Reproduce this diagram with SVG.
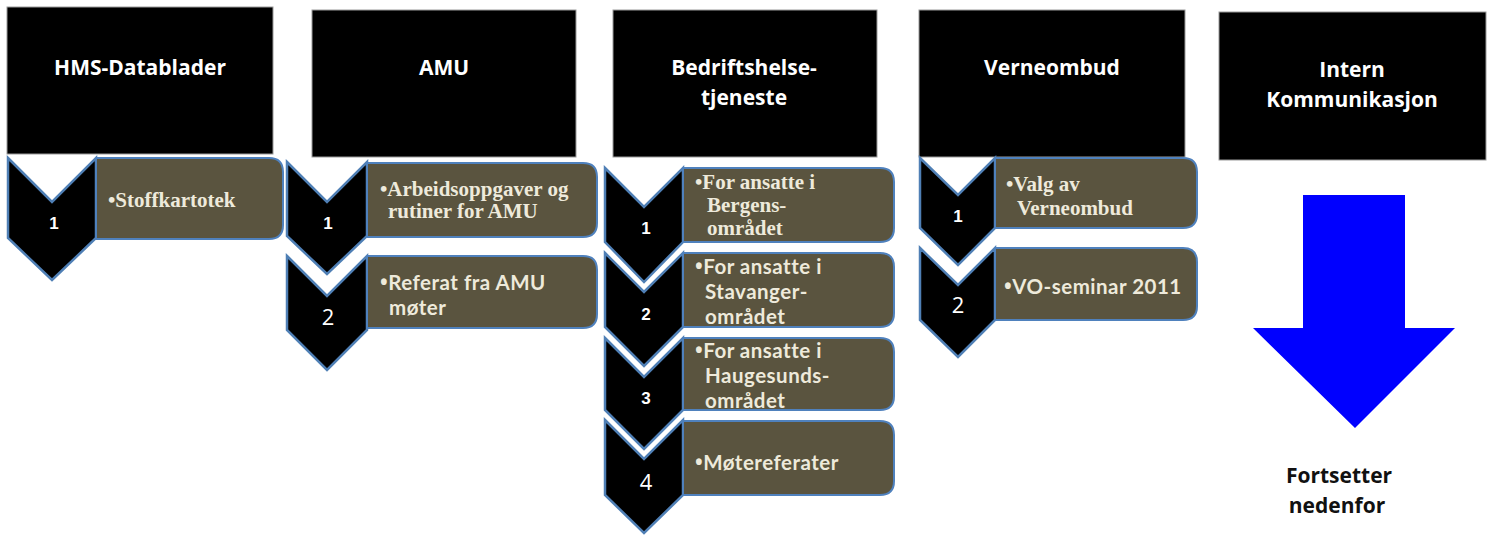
<svg xmlns="http://www.w3.org/2000/svg" width="1493" height="537" viewBox="0 0 1493 537">
  <style>
    .hdr { fill: #000000; stroke: #9a9a9a; stroke-width: 1; }
    .hdr-txt { fill: #ffffff; font-family: "Open Sans", "Liberation Sans", sans-serif; font-weight: bold; font-size: 21px; text-anchor: middle; }
    .chev { fill: #000000; stroke: #4f7fb5; stroke-width: 2.5; stroke-linejoin: miter; }
    .item { fill: #5a543f; stroke: #4f81bd; stroke-width: 2; }
    .num { fill: #ffffff; font-family: "Open Sans", "Liberation Sans", sans-serif; font-size: 22px; text-anchor: middle; }
    .num-b { fill: #ffffff; font-family: "Liberation Sans", sans-serif; font-weight: bold; font-size: 17px; text-anchor: middle; }
    .serif { fill: #eeeadb; font-family: "Liberation Serif", serif; font-weight: bold; font-size: 21px; }
    .sans { fill: #eeeadb; font-family: Lato, "Open Sans", sans-serif; font-weight: bold; font-size: 20.5px; letter-spacing: 0.5px; }
    .blt { font-family: "Open Sans", sans-serif; }
    .note { fill: #111111; font-family: "Open Sans", "Liberation Sans", sans-serif; font-weight: bold; font-size: 21px; text-anchor: middle; }
  </style>

  <!-- column headers -->
  <g id="hdr-hms">
    <rect class="hdr" x="7" y="7" width="266" height="147"/>
    <text class="hdr-txt" x="140" y="75">HMS-Datablader</text>
  </g>
  <g id="hdr-amu">
    <rect class="hdr" x="312" y="10" width="264" height="147"/>
    <text class="hdr-txt" x="444" y="75">AMU</text>
  </g>
  <g id="hdr-bht">
    <rect class="hdr" x="613" y="10" width="264" height="147"/>
    <text class="hdr-txt" x="744" y="75">Bedriftshelse-</text>
    <text class="hdr-txt" x="744" y="105">tjeneste</text>
  </g>
  <g id="hdr-vo">
    <rect class="hdr" x="919" y="10" width="266" height="147"/>
    <text class="hdr-txt" x="1052" y="75">Verneombud</text>
  </g>
  <g id="hdr-intern">
    <rect class="hdr" x="1219" y="12" width="267" height="148"/>
    <text class="hdr-txt" x="1352" y="77">Intern</text>
    <text class="hdr-txt" x="1352" y="107">Kommunikasjon</text>
  </g>

  <!-- HMS-Datablader list -->
  <g id="hms-1">
    <polygon class="chev" points="8,158 52,202 96,158 96,238 52,280 8,238"/>
    <path class="item" d="M96,158 H269 Q283,158 283,172 V225 Q283,239 269,239 H96 Z"/>
    <text class="num-b" x="54" y="229">1</text>
    <text class="serif" x="108" y="207">•Stoffkartotek</text>
  </g>

  <!-- AMU list -->
  <g id="amu-1">
    <polygon class="chev" points="287,162 327,202 367,162 367,236 327,274 287,236"/>
    <path class="item" d="M367,163 H583 Q597,163 597,177 V223 Q597,237 583,237 H367 Z"/>
    <text class="num-b" x="328" y="229">1</text>
    <text class="serif" x="380" y="196">•Arbeidsoppgaver og</text>
    <text class="serif" x="388" y="218">rutiner for AMU</text>
  </g>
  <g id="amu-2">
    <polygon class="chev" points="287,256 327,296 367,256 367,330 327,370 287,330"/>
    <path class="item" d="M367,256 H583 Q597,256 597,270 V314 Q597,328 583,328 H367 Z"/>
    <text class="num" x="328" y="325">2</text>
    <text class="sans" x="380" y="290"><tspan class="blt">•</tspan>Referat fra AMU</text>
    <text class="sans" x="389" y="315">møter</text>
  </g>

  <!-- Bedriftshelsetjeneste list -->
  <g id="bht-1">
    <polygon class="chev" points="605,168 644,207 683,168 683,242 644,282 605,242"/>
    <path class="item" d="M683,168 H880 Q894,168 894,182 V228 Q894,242 880,242 H683 Z"/>
    <text class="num-b" x="646" y="234">1</text>
    <text class="serif" x="695" y="189">•For ansatte i</text>
    <text class="serif" x="707" y="212">Bergens-</text>
    <text class="serif" x="707" y="235">området</text>
  </g>
  <g id="bht-2">
    <polygon class="chev" points="605,253 644,292 683,253 683,327 644,366 605,327"/>
    <path class="item" d="M683,253 H880 Q894,253 894,267 V313 Q894,327 880,327 H683 Z"/>
    <text class="num-b" x="646" y="320">2</text>
    <text class="sans" x="695" y="274"><tspan class="blt">•</tspan>For ansatte i</text>
    <text class="sans" x="705" y="299">Stavanger-</text>
    <text class="sans" x="705" y="324">området</text>
  </g>
  <g id="bht-3">
    <polygon class="chev" points="605,338 644,377 683,338 683,410 644,449 605,410"/>
    <path class="item" d="M683,338 H880 Q894,338 894,352 V396 Q894,410 880,410 H683 Z"/>
    <text class="num-b" x="646" y="404">3</text>
    <text class="sans" x="695" y="358"><tspan class="blt">•</tspan>For ansatte i</text>
    <text class="sans" x="705" y="383">Haugesunds-</text>
    <text class="sans" x="705" y="408">området</text>
  </g>
  <g id="bht-4">
    <polygon class="chev" points="605,420 644,459 683,420 683,495 644,533 605,495"/>
    <path class="item" d="M683,421 H880 Q894,421 894,435 V481 Q894,495 880,495 H683 Z"/>
    <text class="num" x="646" y="490">4</text>
    <text class="sans" x="695" y="470"><tspan class="blt">•</tspan>Møtereferater</text>
  </g>

  <!-- Verneombud list -->
  <g id="vo-1">
    <polygon class="chev" points="920,158 958,195 995,158 995,228 958,265 920,228"/>
    <path class="item" d="M995,158 H1183 Q1197,158 1197,172 V214 Q1197,228 1183,228 H995 Z"/>
    <text class="num-b" x="958" y="222">1</text>
    <text class="serif" x="1006" y="191">•Valg av</text>
    <text class="serif" x="1017" y="215">Verneombud</text>
  </g>
  <g id="vo-2">
    <polygon class="chev" points="920,248 958,285 995,248 995,320 958,357 920,320"/>
    <path class="item" d="M995,248 H1183 Q1197,248 1197,262 V306 Q1197,320 1183,320 H995 Z"/>
    <text class="num" x="958" y="313">2</text>
    <text class="sans" x="1004" y="294"><tspan class="blt">•</tspan>VO-seminar 2011</text>
  </g>

  <!-- continuation arrow -->
  <g id="connectors">
    <polygon fill="#0000ff" points="1303,195 1405,195 1405,328 1455,328 1355,428 1253,328 1303,328"/>
  </g>
  <g id="fortsetter">
    <text class="note" x="1339" y="483">Fortsetter</text>
    <text class="note" x="1337" y="513">nedenfor</text>
  </g>
</svg>
